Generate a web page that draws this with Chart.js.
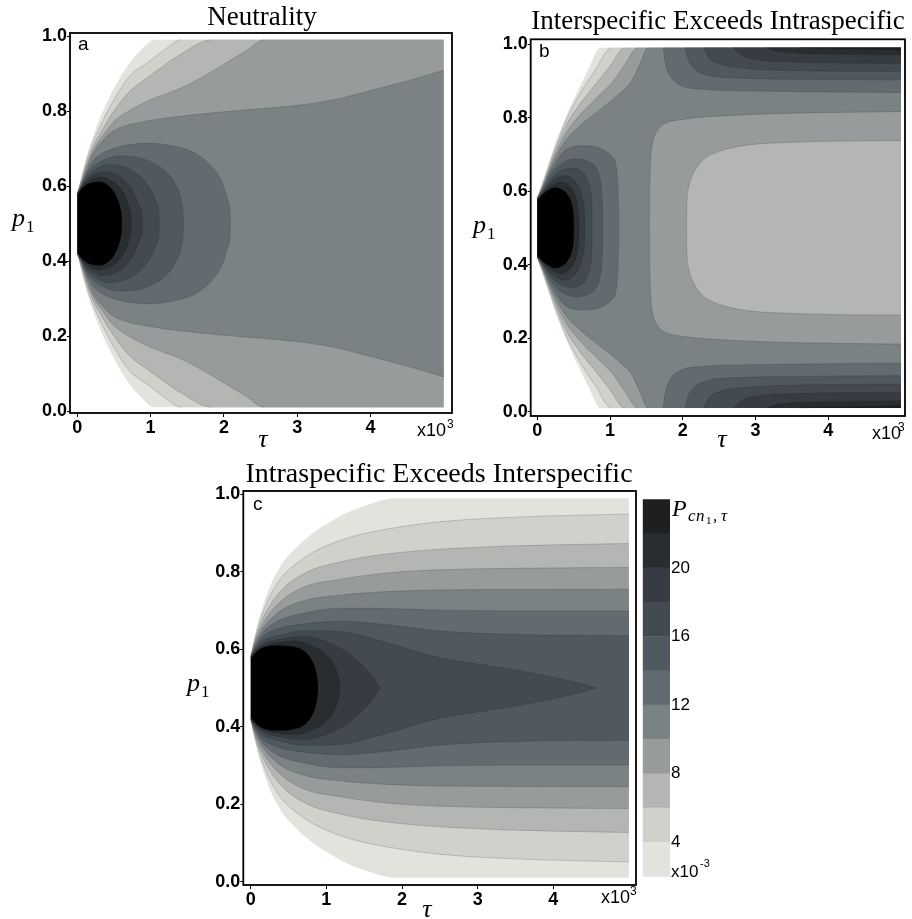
<!DOCTYPE html>
<html>
<head>
<meta charset="utf-8">
<script src="https://cdn.jsdelivr.net/npm/chart.js@4.4.1/dist/chart.umd.min.js"></script>
<style>
  body { margin: 0; background: #fff; width: 912px; height: 919px; overflow: hidden; position: relative; }
  .box { position: absolute; }
</style>
</head>
<body>
<div class="box" style="left:0;top:0;width:460px;height:460px"><canvas id="ca"></canvas></div>
<div class="box" style="left:460px;top:0;width:452px;height:460px"><canvas id="cb"></canvas></div>
<div class="box" style="left:180px;top:460px;width:460px;height:459px"><canvas id="cc"></canvas></div>
<div class="box" style="left:640px;top:460px;width:272px;height:459px"><canvas id="cbar"></canvas></div>
<script>
// tick labels
const tauTicks = [0, 1, 2, 3, 4];
const pTicks = [0, 0.2, 0.4, 0.6, 0.8, 1.0];
const barLevels = [2, 4, 6, 8, 10, 12, 14, 16, 18, 20, 22, 24];
const barTicks = [4, 8, 12, 16, 20];

// contour regions, upper half (p >= 0.5), mirrored about p = 0.5
// [tau, p] -> region between 1-p and p ; [tau, lo, hi] -> region between lo and hi
// panel a : neutrality
const aR0 = [[0,.58],[.05,.62],[.12,.675],[.22,.735],[.35,.8],[.5,.86],[.7,.925],[.88,.965],[1.05,.99],[5,.99]];
const aR1 = [[0,.58],[.05,.615],[.12,.665],[.22,.72],[.35,.775],[.5,.83],[.7,.89],[1,.935],[1.2,.965],[1.42,.99],[5,.99]];
const aR2 = [[0,.58],[.05,.61],[.12,.655],[.22,.707],[.35,.753],[.5,.8],[.7,.85],[1,.895],[1.4,.95],[1.84,.99],[5,.99]];
const aR3 = [[0,.58],[.05,.605],[.12,.647],[.22,.697],[.35,.735],[.5,.772],[.7,.8],[1,.83],[1.4,.86],[1.7,.89],[2,.925],[2.3,.96],[2.55,.99],[5,.99]];
const aR4 = [[0,.58],[.05,.602],[.12,.64],[.22,.688],[.35,.722],[.5,.748],[.7,.763],[1,.775],[1.4,.786],[2,.798],[2.5,.806],[3.04,.816],[3.5,.83],[3.95,.852],[4.5,.88],[5,.909]];
const aR5 = [[0,.58],[.05,.6],[.12,.633],[.22,.668],[.35,.688],[.5,.7],[.7,.71],[1,.714],[1.2,.71],[1.45,.7],[1.63,.685],[1.82,.655],[1.95,.62],[2.04,.57],[2.086,.52],[2.09,.5]];
const aR6 = [[0,.58],[.05,.598],[.12,.627],[.22,.652],[.35,.668],[.55,.68],[.8,.677],[1,.665],[1.2,.64],[1.35,.6],[1.42,.56],[1.446,.52],[1.45,.5]];
const aR7 = [[0,.58],[.05,.596],[.12,.621],[.22,.64],[.4,.657],[.6,.653],[.8,.635],[.97,.6],[1.07,.56],[1.116,.52],[1.12,.5]];
const aR8 = [[0,.578],[.05,.594],[.12,.615],[.22,.63],[.33,.638],[.5,.633],[.66,.612],[.78,.578],[.86,.54],[.886,.52],[.89,.5]];
const aR9 = [[0,.577],[.05,.592],[.12,.609],[.22,.62],[.3,.624],[.43,.618],[.56,.6],[.66,.57],[.72,.535],[.736,.52],[.74,.5]];
const aR11 = [[0,.575],[.05,.59],[.12,.603],[.22,.61],[.3,.612],[.4,.605],[.5,.585],[.56,.56],[.6,.53],[.606,.52],[.61,.5]];

// panel b : interspecific exceeds intraspecific
const bR0 = [[0,.58],[.07,.625],[.15,.672],[.25,.73],[.4,.805],[.55,.87],[.7,.93],[.87,.99],[5,.99]];
const bR1 = [[0,.58],[.07,.618],[.15,.663],[.25,.72],[.4,.795],[.6,.87],[.8,.93],[1.02,.99],[5,.99]];
const bR2 = [[0,.58],[.07,.613],[.15,.656],[.25,.71],[.4,.78],[.6,.84],[.8,.89],[1,.94],[1.2,.99],[5,.99]];
const bR3 = [[0,.5,.58],[.07,.5,.61],[.15,.5,.65],[.25,.5,.7],[.4,.5,.76],[.6,.5,.81],[.85,.5,.86],[1.05,.5,.9],[1.22,.5,.95],[1.38,.5,.99],[2.05,.5,.99],[2.055,.56,.99],[2.08,.61,.99],[2.15,.65,.99],[2.28,.685,.99],[2.5,.708,.99],[2.85,.724,.99],[3.4,.732,.99],[4.2,.736,.99],[5,.737,.99]];
const bR4 = [[0,.5,.58],[.07,.5,.607],[.15,.5,.645],[.25,.5,.69],[.4,.5,.74],[.6,.5,.78],[.85,.5,.82],[1.1,.5,.86],[1.3,.5,.9],[1.42,.5,.95],[1.52,.5,.99],[1.54,.5,.99],[1.545,.6,.99],[1.555,.67,.99],[1.59,.735,.99],[1.65,.765,.99],[1.75,.783,.99],[2,.795,.99],[2.6,.805,.99],[3.5,.812,.99],[5,.816,.99]];
const bR5 = [[0,.58],[.07,.605],[.15,.64],[.25,.675],[.35,.705],[.45,.718],[.6,.723],[.75,.722],[.9,.713],[1.02,.695],[1.09,.66],[1.11,.6],[1.118,.55],[1.12,.5]];
const bS5 = [[1.73,.99,.99],[1.76,.95,.99],[1.82,.915,.99],[1.95,.89,.99],[2.2,.878,.99],[3,.872,.99],[5,.868,.99]];
const bR6 = [[0,.58],[.07,.6],[.15,.63],[.25,.66],[.4,.682],[.55,.687],[.7,.68],[.8,.665],[.86,.635],[.89,.58],[.898,.53],[.9,.5]];
const bS6 = [[2.03,.99,.99],[2.07,.96,.99],[2.15,.935,.99],[2.35,.915,.99],[2.8,.907,.99],[3.5,.904,.99],[5,.902,.99]];
const bR7 = [[0,.578],[.07,.597],[.15,.622],[.25,.645],[.4,.66],[.5,.662],[.6,.655],[.68,.635],[.73,.6],[.75,.55],[.753,.52],[.755,.5]];
const bS7 = [[2.29,.99,.99],[2.35,.965,.99],[2.5,.946,.99],[2.8,.935,.99],[3.5,.928,.99],[5,.925,.99]];
const bR8 = [[0,.577],[.07,.595],[.15,.615],[.25,.633],[.35,.642],[.46,.637],[.56,.614],[.62,.58],[.65,.54],[.653,.52],[.655,.5]];
const bS8 = [[2.69,.99,.99],[2.8,.97,.99],[3,.958,.99],[3.5,.951,.99],[5,.947,.99]];
const bR9 = [[0,.576],[.07,.593],[.15,.608],[.25,.62],[.32,.624],[.42,.617],[.5,.597],[.55,.567],[.57,.53],[.573,.515],[.575,.5]];
const bS9 = [[3.15,.99,.99],[3.3,.98,.99],[3.6,.975,.99],[4.2,.972,.99],[5,.97,.99]];
const bS10 = [[3.6,.99,.99],[4,.988,.99],[5,.984,.99]];
const bR11 = [[0,.575],[.07,.59],[.15,.602],[.24,.61],[.34,.604],[.43,.586],[.48,.56],[.5,.53],[.503,.515],[.505,.5]];

// panel c : intraspecific exceeds interspecific
const cR0 = [[0,.58],[.05,.63],[.15,.705],[.35,.8],[.7,.88],[1.2,.945],[1.53,.972],[1.9,.99],[5,.99]];
const cR1 = [[0,.58],[.05,.625],[.15,.69],[.35,.77],[.7,.835],[1.2,.882],[1.8,.91],[2.5,.929],[3.5,.941],[5,.949]];
const cR2 = [[0,.58],[.05,.62],[.15,.675],[.35,.74],[.7,.795],[1.2,.826],[1.8,.846],[2.5,.858],[3.5,.867],[5,.873]];
const cR3 = [[0,.58],[.05,.615],[.15,.662],[.35,.715],[.7,.76],[1.2,.781],[1.8,.797],[2.5,.805],[3.5,.809],[5,.811]];
const cR4 = [[0,.58],[.05,.61],[.15,.65],[.35,.693],[.7,.725],[1.2,.74],[1.8,.749],[2.5,.753],[3.5,.754],[5,.755]];
const cR5 = [[0,.58],[.05,.605],[.15,.64],[.35,.672],[.7,.693],[1.2,.706],[1.8,.705],[2.5,.701],[3.5,.699],[5,.699]];
const cR6 = [[0,.58],[.05,.6],[.15,.63],[.35,.652],[.7,.665],[1.2,.672],[1.8,.663],[2.5,.647],[3.5,.638],[5,.635]];
const cR7 = [[0,.578],[.05,.597],[.15,.62],[.35,.634],[.7,.648],[1.2,.645],[1.8,.617],[2.5,.578],[3,.562],[3.5,.546],[4,.528],[4.35,.512],[4.57,.5]];
const cR8 = [[0,.577],[.05,.594],[.15,.612],[.35,.625],[.7,.633],[1,.62],[1.25,.595],[1.48,.558],[1.63,.525],[1.71,.5]];
const cR9 = [[0,.576],[.05,.591],[.15,.606],[.35,.617],[.6,.621],[.85,.605],[1,.585],[1.1,.56],[1.16,.53],[1.176,.515],[1.18,.5]];
const cR11 = [[0,.575],[.05,.588],[.15,.603],[.35,.61],[.55,.607],[.7,.597],[.8,.575],[.86,.545],[.886,.515],[.89,.5]];

// grey for each band of the colour bar (2-4, 4-6, ... 22-24, above)
const palette = ['#e2e3dd','#d0d1cb','#b4b6b3','#979b9b','#7b8284','#636b70','#505960','#434a50','#363c41','#2a2d30','#1e1f20','#000000'];

const aBands = [[aR0,0],[aR1,1],[aR2,2],[aR3,3],[aR4,4],[aR5,5],[aR6,6],[aR7,7],[aR8,8],[aR9,9],[aR11,11]];
const bBands = [[bR0,0],[bR1,1],[bR2,2],[bR3,3],[bR4,4],[bR5,5],[bS5,5],[bR6,6],[bS6,6],[bR7,7],[bS7,7],[bR8,8],[bS8,8],[bR9,9],[bS9,9],[bS10,10],[bR11,11]];
const cBands = [[cR0,0],[cR1,1],[cR2,2],[cR3,3],[cR4,4],[cR5,5],[cR6,6],[cR7,7],[cR8,8],[cR9,9],[cR11,11]];

const SERIF = '"Liberation Serif", "Times New Roman", serif';
const SANS = '"Liberation Sans", Arial, sans-serif';

// a segment lying on the mid line or on the data edge is not a contour line
function flat(ctx) {
  const a = ctx.p0.parsed.y, b = ctx.p1.parsed.y;
  if (Math.abs(a - b) > 1e-9) return false;
  return [0.5, 0.99, 0.01].some(e => Math.abs(e - a) < 1e-6);
}

function addPair(sets, lo, hi, level, loLine, hiLine) {
  const ord = 1000 - sets.length;
  const base = { pointRadius: 0, cubicInterpolationMode: 'monotone', borderWidth: 0, order: ord };
  sets.push(Object.assign({}, base, { data: lo, fill: false }));
  sets.push(Object.assign({}, base, { data: hi, fill: '-1', backgroundColor: palette[level] }));
  if (level > 0) {
    const line = {
      pointRadius: 0, cubicInterpolationMode: 'monotone', fill: false, order: ord - 0.5,
      borderWidth: 0.6, borderColor: 'rgba(20,20,20,0.3)',
      segment: { borderColor: c => flat(c) ? 'rgba(0,0,0,0)' : undefined }
    };
    sets.push(Object.assign({}, line, { data: loLine || lo }));
    sets.push(Object.assign({}, line, { data: hiLine || hi }));
  }
}

function buildSets(bands) {
  const sets = [];
  bands.forEach(([pts, level]) => {
    if (pts[0].length === 2) {
      addPair(sets, pts.map(q => ({ x: q[0], y: 1 - q[1] })), pts.map(q => ({ x: q[0], y: q[1] })), level);
    } else {
      addPair(sets, pts.map(q => ({ x: q[0], y: q[1] })), pts.map(q => ({ x: q[0], y: q[2] })), level);
      // lower copy overlaps the mid line a little so no seam shows where the halves meet
      const hiFill = pts.map(q => ({ x: q[0], y: 1 - q[1] + (q[1] === 0.5 ? 0.004 : 0) }));
      const hiLine = pts.map(q => ({ x: q[0], y: 1 - q[1] }));
      const lo = pts.map(q => ({ x: q[0], y: 1 - q[2] }));
      addPair(sets, lo, hiFill, level, lo, hiLine);
    }
  });
  return sets;
}

function textPlugin(items, ox, oy) {
  return {
    id: 'txt',
    afterDraw(chart) {
      const c = chart.ctx;
      c.save();
      c.fillStyle = '#000';
      c.textBaseline = 'alphabetic';
      items.forEach(it => {
        c.font = it[3];
        c.textAlign = it[4] || 'left';
        c.fillText(it[0], it[1] - ox, it[2] - oy);
      });
      c.restore();
    }
  };
}

const framePlugin = {
  id: 'frame',
  afterDraw(chart) {
    const a = chart.chartArea, c = chart.ctx;
    c.save();
    c.strokeStyle = '#000';
    c.lineWidth = 1.8;
    c.strokeRect(a.left, a.top, a.right - a.left, a.bottom - a.top);
    c.restore();
  }
};

function panel(id, bands, g, texts) {
  const tickFont = { family: SANS, size: 18, weight: 'bold' };
  const grid = { drawOnChartArea: false, drawTicks: true, tickLength: 4, color: '#000', tickColor: '#000', lineWidth: 1 };
  new Chart(document.getElementById(id), {
    type: 'line',
    data: { datasets: buildSets(bands) },
    options: {
      animation: false,
      responsive: true,
      maintainAspectRatio: false,
      events: [],
      layout: { padding: { left: 0, top: g.top, right: g.right, bottom: 0 } },
      plugins: { legend: { display: false }, tooltip: { enabled: false } },
      scales: {
        x: {
          type: 'linear', min: g.xmin, max: g.xmax,
          afterBuildTicks: s => { s.ticks = tauTicks.map(v => ({ value: v })); },
          afterFit: s => { s.height = g.xh; },
          grid: grid, border: { display: false },
          ticks: { color: '#000', font: tickFont, padding: 0, maxRotation: 0, autoSkip: false, callback: v => String(v) }
        },
        y: {
          type: 'linear', min: g.ymin, max: g.ymax,
          afterBuildTicks: s => { s.ticks = pTicks.map(v => ({ value: v })); },
          afterFit: s => { s.width = g.yw; },
          grid: Object.assign({}, grid, { tickLength: 3 }), border: { display: false },
          ticks: { color: '#000', font: tickFont, padding: 0, autoSkip: false, callback: v => v.toFixed(1) }
        }
      }
    },
    plugins: [framePlugin, textPlugin(texts, g.ox, g.oy)]
  });
}

panel('ca', aBands,
  { ox: 0, oy: 0, top: 33, right: 8, xh: 47, yw: 70, xmin: -0.0996, xmax: 5.112, ymin: -0.0053, ymax: 1.008 },
  [['Neutrality', 262, 25, '27px ' + SERIF, 'center'],
   ['a', 78, 50, '19px ' + SANS],
   ['p', 12, 226, 'italic 26px ' + SERIF], ['1', 26, 232, '17px ' + SERIF],
   ['\u03C4', 263, 447, 'italic 26px ' + SERIF, 'center'],
   ['x10', 417, 436, '18px ' + SANS], ['3', 447, 428, '12px ' + SANS]]);

panel('cb', bBands,
  { ox: 460, oy: 0, top: 39.3, right: 7, xh: 44, yw: 70.7, xmin: -0.09, xmax: 5.054, ymin: -0.0117, ymax: 1.0128 },
  [['Interspecific Exceeds Intraspecific', 718, 29, '27px ' + SERIF, 'center'],
   ['b', 539, 57, '19px ' + SANS],
   ['p', 473, 233, 'italic 26px ' + SERIF], ['1', 487, 239, '17px ' + SERIF],
   ['\u03C4', 722, 447, 'italic 26px ' + SERIF, 'center'],
   ['x10', 872, 439, '18px ' + SANS], ['3', 898, 431, '12px ' + SANS]]);

panel('cc', cBands,
  { ox: 180, oy: 460, top: 31, right: 4, xh: 34, yw: 63.3, xmin: -0.098, xmax: 5.093, ymin: -0.0085, ymax: 1.0085 },
  [['Intraspecific Exceeds Interspecific', 439, 482, '28px ' + SERIF, 'center'],
   ['c', 253, 510, '19px ' + SANS],
   ['p', 187, 691, 'italic 26px ' + SERIF], ['1', 201, 697, '17px ' + SERIF],
   ['\u03C4', 427, 917, 'italic 26px ' + SERIF, 'center'],
   ['x10', 601, 903, '18px ' + SANS], ['3', 630, 895, '12px ' + SANS]]);

// colour bar
new Chart(document.getElementById('cbar'), {
  type: 'bar',
  data: {
    labels: [''],
    datasets: barLevels.slice(0, -1).map((v, i) => ({
      data: [[v, barLevels[i + 1]]],
      backgroundColor: palette[i],
      borderWidth: 0,
      grouped: false,
      barPercentage: 1,
      categoryPercentage: 1
    }))
  },
  options: {
    animation: false,
    responsive: true,
    maintainAspectRatio: false,
    events: [],
    layout: { padding: { left: 2.7, top: 39.3, right: 0, bottom: 42.3 } },
    plugins: { legend: { display: false }, tooltip: { enabled: false } },
    scales: {
      x: { display: false },
      y: {
        position: 'right', min: 2, max: 24,
        afterBuildTicks: s => { s.ticks = barTicks.map(v => ({ value: v })); },
        afterFit: s => { s.width = 242; },
        grid: { display: false, drawTicks: false },
        border: { display: false },
        ticks: { color: '#000', font: { family: SANS, size: 17 }, padding: 1 }
      }
    }
  },
  plugins: [textPlugin([
    ['P', 672, 516, 'italic 24px ' + SERIF],
    ['c', 688, 521, 'italic 17px ' + SERIF], ['n', 696, 521, 'italic 17px ' + SERIF],
    ['1', 706, 524, '11px ' + SERIF], [',', 713, 521, 'italic 17px ' + SERIF],
    ['\u03C4', 721, 521, 'italic 17px ' + SERIF],
    ['x10', 671, 877, '17px ' + SANS], ['-3', 700, 867, '11px ' + SANS]
  ], 640, 460)]
});
</script>
</body>
</html>
